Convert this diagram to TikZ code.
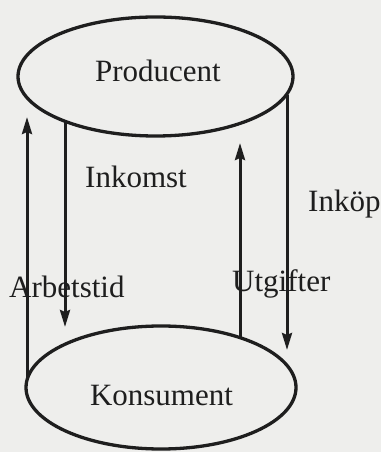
\documentclass[tikz,border=0pt]{standalone}
\usepackage{fontspec}
\setmainfont{Liberation Serif}
\usetikzlibrary{shapes.geometric,arrows.meta}
\definecolor{bg}{RGB}{238,238,236}
\definecolor{ink}{RGB}{30,30,30}
\begin{document}
\begin{tikzpicture}[x=1pt,y=1pt,
  oval/.style={draw=ink, ellipse, line width=3.3pt, inner sep=0pt},
  lbl/.style={text=ink, font=\fontsize{31}{31}\selectfont, inner sep=0pt},
  flow/.style={draw=ink, line width=3pt, -{Stealth[length=17pt,width=10pt,inset=2pt]}}]
\fill[bg] (0,0) rectangle (381,452);
\useasboundingbox (0,0) rectangle (381,452);
\node[oval, minimum width=275pt, minimum height=119pt] (P) at (155.5,375.5) {};
\node[oval, minimum width=270pt, minimum height=123pt] (K) at (161,64.5) {};
\coordinate (a2) at (27,335);
\coordinate (b2) at (65,125);
\coordinate (c2) at (240,309);
\coordinate (d2) at (287,102);
\draw[flow] (a2 |- K.176.8) -- (a2);
\draw[flow] (b2 |- P.206.3) -- (b2);
\draw[flow] (c2 |- K.32.3) -- (c2);
\draw[flow] (d2 |- P.352.5) -- (d2);
\node[lbl, anchor=base] (Pt) at (158,370) {Producent};
\node[lbl, anchor=base west] (Ik) at (85,264) {Inkomst};
\node[lbl, anchor=base west] (Ip) at (308,240) {Inköp};
\node[lbl, anchor=base west] (Ab) at (9,154) {Arbetstid};
\node[lbl, anchor=base west] (Ut) at (232,160) {Utgifter};
\node[lbl, anchor=base] (Kt) at (161.5,46) {Konsument};
\end{tikzpicture}
\end{document}
